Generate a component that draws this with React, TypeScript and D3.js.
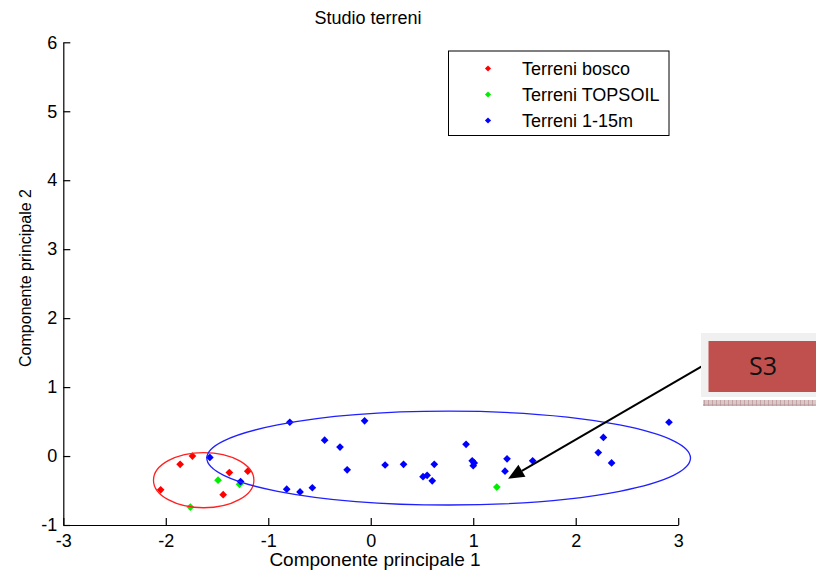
import React, { useRef, useEffect } from 'react'
import * as d3 from 'd3'

const width = 816
const height = 572

// principal component scores
const boscoX = [-1.74, -1.86, -2.05, -1.38, -1.20, -1.44]
const boscoY = [0.00, -0.12, -0.49, -0.24, -0.22, -0.56]
const topsoilX = [-1.49, -1.76, 1.23, -1.28]
const topsoilY = [-0.35, -0.74, -0.45, -0.41]
const deepX = [-1.57, -1.27, -0.79, -0.06, -0.45, -0.30, -0.23, 0.14, 0.32, 0.62, 0.51, 0.55, 0.60,
    -0.82, -0.69, -0.57, 0.93, 0.99, 1.01, 1.00, 1.33, 1.58, 1.31, 2.27, 2.22, 2.35, 2.91]
const deepY = [-0.02, -0.37, 0.49, 0.51, 0.23, 0.13, -0.20, -0.13, -0.12, -0.12, -0.30, -0.28, -0.36,
    -0.48, -0.52, -0.46, 0.17, -0.07, -0.10, -0.14, -0.04, -0.07, -0.22, 0.27, 0.05, -0.10, 0.49]

// ellipses around the groups: center and half axes
const ellipseCx = [-1.63, 0.76]
const ellipseCy = [-0.35, -0.03]
const ellipseRx = [0.49, 2.36]
const ellipseRy = [0.40, 0.68]
const ellipseColor = ['#ff2020', '#2020ff']

const seriesNames = ['Terreni bosco', 'Terreni TOPSOIL', 'Terreni 1-15m']
const seriesColors = ['#ff0000', '#00ee00', '#0000ff']

const xTicks = [-3, -2, -1, 0, 1, 2, 3]
const yTicks = [-1, 0, 1, 2, 3, 4, 5, 6]

// arrow to the S3 sample (data units)
const arrowFrom = [3.23, 1.30]
const arrowTo = [1.34, -0.33]

const font = 'Liberation Sans, Arial, sans-serif'

const x = d3.scaleLinear().domain([-3, 3]).range([63.3, 678.2])
const y = d3.scaleLinear().domain([-1, 6]).range([525, 42.3])

const diamond = d3.symbol().type(d3.symbolDiamond2).size(38)()
const smallDiamond = d3.symbol().type(d3.symbolDiamond2).size(24)()

function App() {
    const xRef = useRef<SVGGElement>(null)
    const yRef = useRef<SVGGElement>(null)

    useEffect(() => {
        const fmt = (d: d3.NumberValue) => String(d)
        const gx = d3.select(xRef.current)
        gx.call(d3.axisBottom(x).tickValues(xTicks).tickFormat(fmt).tickSizeInner(-7).tickSizeOuter(0).tickPadding(9))
        const gy = d3.select(yRef.current)
        gy.call(d3.axisLeft(y).tickValues(yTicks).tickFormat(fmt).tickSizeInner(-7).tickSizeOuter(0).tickPadding(6))
        for (const g of [gx, gy]) {
            g.selectAll('text').attr('font-size', 18).attr('font-family', font).attr('fill', '#000')
            g.selectAll('path,line').attr('stroke', '#000').attr('stroke-width', 1.2)
        }
    }, [])

    const groups = [
        { xs: boscoX, ys: boscoY, color: seriesColors[0] },
        { xs: topsoilX, ys: topsoilY, color: seriesColors[1] },
        { xs: deepX, ys: deepY, color: seriesColors[2] },
    ]

    const ax0 = x(arrowFrom[0]), ay0 = y(arrowFrom[1])
    const ax1 = x(arrowTo[0]), ay1 = y(arrowTo[1])
    const ang = Math.atan2(ay1 - ay0, ax1 - ax0)
    const headLen = 16, headW = 7
    const bx = ax1 - headLen * Math.cos(ang), by = ay1 - headLen * Math.sin(ang)
    const head = [
        [ax1, ay1],
        [bx + headW * Math.sin(ang), by - headW * Math.cos(ang)],
        [bx - headW * Math.sin(ang), by + headW * Math.cos(ang)],
    ]

    return (
        <div style={{ position: 'absolute', left: 0, top: 0 }}>
            <svg width={width} height={height} style={{ display: 'block', background: '#fff' }}>
                <defs>
                    <pattern id="hatch" width="4" height="6" patternUnits="userSpaceOnUse">
                        <rect width="4" height="6" fill="#dcc8c8" />
                        <line x1="0" y1="0" x2="0" y2="6" stroke="#a88080" strokeWidth="1" />
                        <line x1="0" y1="3" x2="4" y2="3" stroke="#b89898" strokeWidth="1" />
                    </pattern>
                </defs>

                <text x={368} y={24} textAnchor="middle" fontFamily={font} fontSize={18}>Studio terreni</text>

                <g ref={xRef} transform={`translate(0,${y(-1)})`} />
                <g ref={yRef} transform={`translate(${x(-3)},0)`} />

                <text x={375} y={566} textAnchor="middle" fontFamily={font} fontSize={19}>Componente principale 1</text>
                <text transform={`translate(31,278) rotate(-90)`} textAnchor="middle" fontFamily={font} fontSize={16}>Componente principale 2</text>

                {groups.map((g, gi) =>
                    g.xs.map((v, i) => (
                        <path key={gi + '-' + i} d={diamond} fill={g.color}
                            transform={`translate(${x(v)},${y(g.ys[i])})`} />
                    ))
                )}

                {ellipseCx.map((cx, i) => (
                    <ellipse key={'e' + i} cx={x(cx)} cy={y(ellipseCy[i])}
                        rx={x(cx + ellipseRx[i]) - x(cx)} ry={y(ellipseCy[i]) - y(ellipseCy[i] + ellipseRy[i])}
                        fill="none" stroke={ellipseColor[i]} strokeWidth={1.3} />
                ))}

                {/* legend */}
                <rect x={448.5} y={51} width={220.5} height={84.5} fill="#fff" stroke="#000" strokeWidth={1} />
                {seriesNames.map((name, i) => (
                    <g key={name} transform={`translate(0,${68.5 + i * 26})`}>
                        <path d={smallDiamond} fill={seriesColors[i]} transform="translate(488,0)" />
                        <text x={522} y={6.5} fontFamily={font} fontSize={18}>{name}</text>
                    </g>
                ))}

                {/* annotation */}
                <line x1={ax0} y1={ay0} x2={bx} y2={by} stroke="#000" strokeWidth={2} />
                <polygon points={head.map(p => p.join(',')).join(' ')} fill="#000" />

                <rect x={701} y={333} width={120} height={64} fill="#f0f0f0" />
                <rect x={708.5} y={341} width={112} height={51} fill="#c0504d" />
                <rect x={703} y={400} width={118} height={6} fill="url(#hatch)" />
                <text x={763} y={375} textAnchor="middle" fontFamily="Open Sans, Liberation Sans, sans-serif" fontSize={25} fill="#111">S3</text>
            </svg>
        </div>
    )
}

export default App
